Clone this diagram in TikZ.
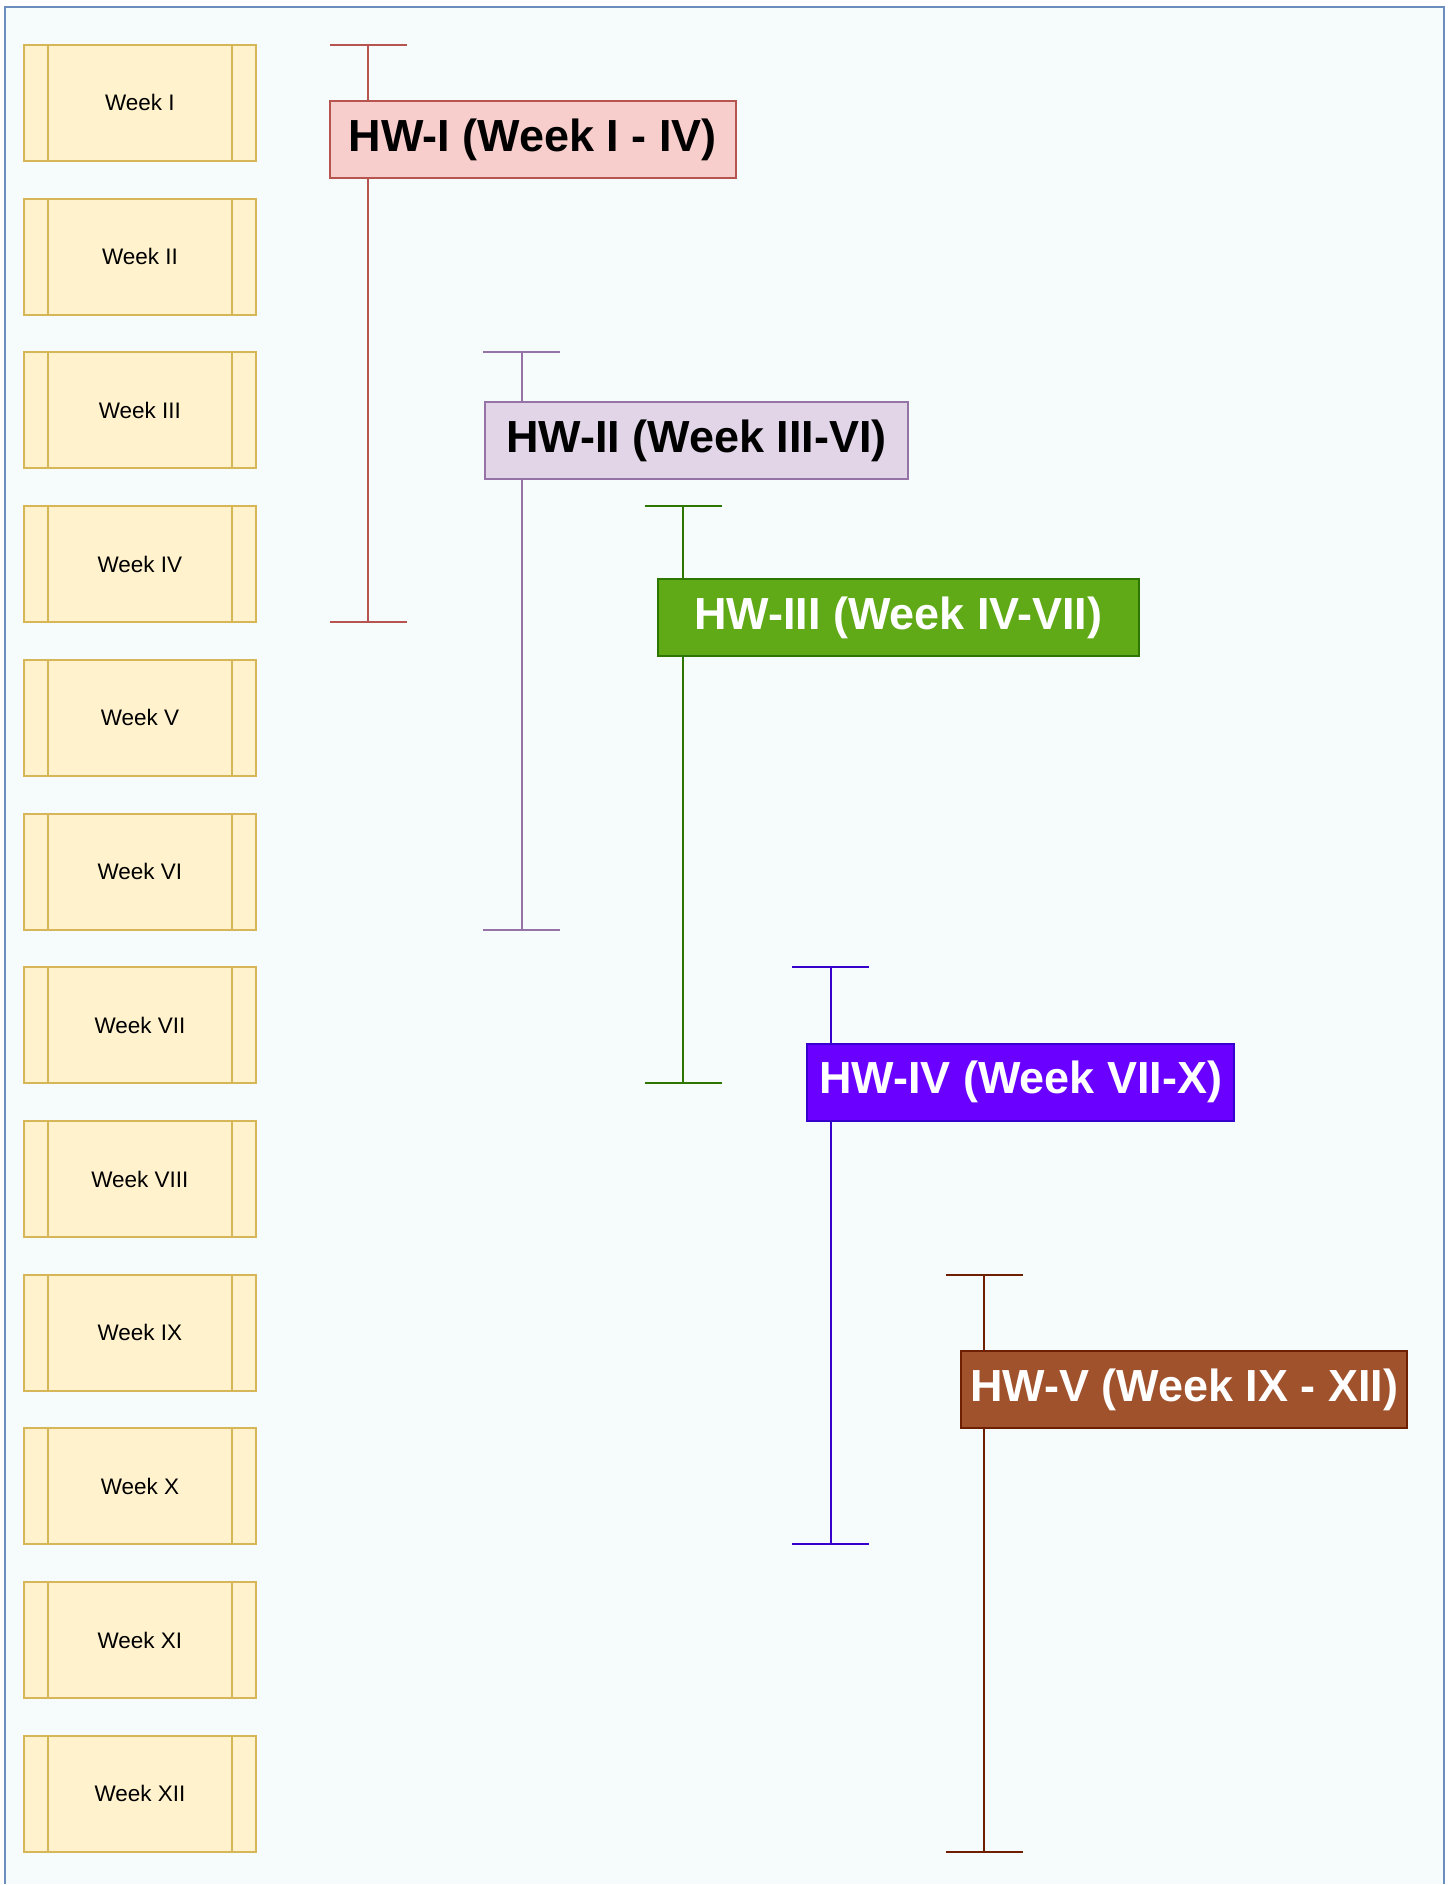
\documentclass[tikz,border=0pt]{standalone}
\usepackage{fontspec}
\setmainfont{Liberation Sans}
\definecolor{bgfill}{HTML}{F6FCFC}
\definecolor{bgline}{HTML}{6C8EBF}
\definecolor{wkfill}{HTML}{FFF2CC}
\definecolor{wkline}{HTML}{D6B656}
\definecolor{hwafill}{HTML}{F8CECC}
\definecolor{hwaline}{HTML}{B85450}
\definecolor{hwbfill}{HTML}{E1D5E7}
\definecolor{hwbline}{HTML}{9673A6}
\definecolor{hwcfill}{HTML}{60A917}
\definecolor{hwcline}{HTML}{2D7600}
\definecolor{hwdfill}{HTML}{6A00FF}
\definecolor{hwdline}{HTML}{3700CC}
\definecolor{hwefill}{HTML}{A0522D}
\definecolor{hweline}{HTML}{6D1F00}
\begin{document}
\begin{tikzpicture}[x=1pt,y=-1pt,
  week/.style={draw=wkline, fill=wkfill, line width=2pt, minimum width=232pt,
    minimum height=116pt, inner sep=0pt, outer sep=0pt,
    font=\fontsize{22.5}{27}\selectfont},
  weekedge/.style={draw=wkline, line width=2pt},
  hw/.style={line width=2pt, inner sep=0pt, outer sep=0pt, minimum height=77pt,
    font=\bfseries\fontsize{45}{54}\selectfont},
  bar/.style={line width=2pt}]
\fill[bgfill] (5.5,7) rectangle (1445,1885);
\draw[bgline, line width=2pt] (5.5,1885) -- (5.5,7) -- (1445,7) -- (1445,1885);
\useasboundingbox (0,0) rectangle (1452,1885);
% week boxes
\foreach \i/\r in {1/I,2/II,3/III,4/IV,5/V,6/VI,7/VII,8/VIII,9/IX,10/X,11/XI,12/XII}{
  \node[week] (w\i) at (140,{103+153.8*(\i-1)}) {Week \r};
  \draw[weekedge] ([xshift=24pt]w\i.north west) -- ([xshift=24pt]w\i.south west);
  \draw[weekedge] ([xshift=-24pt]w\i.north east) -- ([xshift=-24pt]w\i.south east);
}
% brackets
\foreach \n/\x/\a/\b/\c in {1/368.5/1/4/hwaline, 2/522/3/6/hwbline, 3/683.5/4/7/hwcline, 4/831.3/7/10/hwdline, 5/985/9/12/hweline}{
  \coordinate (t\n) at (\x,0 |- w\a.north);
  \coordinate (e\n) at (\x,0 |- w\b.south);
  \draw[bar, draw=\c] (t\n) -- (e\n);
  \draw[bar, draw=\c] ([xshift=-38.5pt]t\n) -- ([xshift=38.5pt]t\n);
  \draw[bar, draw=\c] ([xshift=-38.5pt]e\n) -- ([xshift=38.5pt]e\n);
}
% homework boxes
\node[hw, draw=hwaline, fill=hwafill, minimum width=406pt] (hw1) at (533,139.5) {HW-I (Week I - IV)};
\node[hw, draw=hwbline, fill=hwbfill, minimum width=422.6pt] (hw2) at (697,440.7) {HW-II (Week III-VI)};
\node[hw, draw=hwcline, fill=hwcfill, text=white, minimum width=481pt] (hw3) at (898.8,617.8) {HW-III (Week IV-VII)};
\node[hw, draw=hwdline, fill=hwdfill, text=white, minimum width=427.3pt] (hw4) at (1021.3,1082.8) {HW-IV (Week VII-X)};
\node[hw, draw=hweline, fill=hwefill, text=white, minimum width=446pt] (hw5) at (1184.7,1390.3) {HW-V (Week IX - XII)};
\end{tikzpicture}
\end{document}
